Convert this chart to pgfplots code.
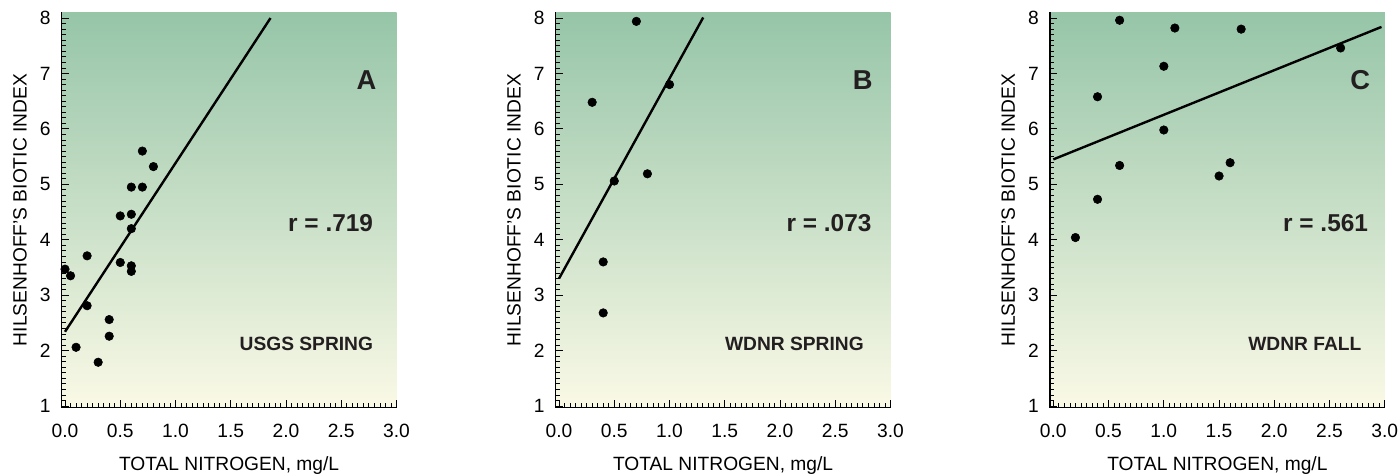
\documentclass[border=0pt]{standalone}
\usepackage{pgfplots}
\pgfplotsset{compat=1.18}
\usepackage{fontspec}
\setmainfont{Liberation Sans}
\definecolor{bgtop}{RGB}{150,197,168}
\definecolor{bgbot}{RGB}{250,249,230}
\definecolor{txt}{RGB}{35,31,32}
\tikzset{
  letter/.style={anchor=base east, inner sep=0pt, text=txt, font=\fontsize{20.5}{22}\selectfont\bfseries},
  rval/.style={anchor=base east, inner sep=0pt, text=txt, font=\fontsize{18.3}{20}\selectfont\bfseries},
  season/.style={anchor=base east, inner sep=0pt, text=txt, font=\fontsize{14.4}{16}\selectfont\bfseries},
}
\pgfplotsset{panel/.style={
  scale only axis, width=251.1pt, height=296.4pt,
  xmin=-0.03, xmax=3.0, ymin=0.97, ymax=8.1,
  axis x line=bottom, axis y line=left,
  axis line style={-, line width=1pt, black},
  axis background/.style={top color=bgtop, bottom color=bgbot},
  xtick={0,0.5,1,1.5,2,2.5,3}, ytick={1,2,3,4,5,6,7,8},
  minor x tick num=9, minor y tick num=9,
  tick align=inside, major tick length=5.5pt, minor tick length=3.3pt,
  every tick/.style={black, line width=0.6pt},
  /pgf/number format/assume math mode=true,
  x tick label style={/pgf/number format/.cd, fixed, fixed zerofill, precision=1, /tikz/.cd,
     anchor=base, yshift=-21.975pt, inner sep=0pt, font=\fontsize{14.4}{16}\selectfont},
  y tick label style={anchor=east, xshift=-8.25pt, inner sep=0pt, font=\fontsize{14.4}{16}\selectfont},
  xlabel={TOTAL NITROGEN, mg/L},
  ylabel={HILSENHOFF’S BIOTIC INDEX},
  every axis x label/.style={at={(axis description cs:0.5,-0.1594)}, anchor=base, inner sep=0pt, font=\fontsize{14.4}{16}\selectfont},
  every axis y label/.style={at={(axis description cs:-0.1245,0.5)}, anchor=center, rotate=90, inner sep=0pt, font=\fontsize{14.4}{16}\selectfont},
  dots/.style={only marks, mark=*, mark size=3.2pt, black},
  fitline/.style={black, line width=1.8pt, no marks},
}}
\begin{document}
\begin{tikzpicture}
\path[use as bounding box] (0,0) rectangle (1048.5pt,356.25pt);
% Panel A
\begin{axis}[panel, at={(46.275pt,50.475pt)}, anchor=south west]
\addplot[dots] coordinates {
(0.7,5.60) (0.8,5.32) (0.6,4.95) (0.7,4.95) (0.5,4.43) (0.6,4.46) (0.6,4.20)
(0.0,3.47) (0.05,3.35) (0.2,3.71) (0.5,3.59) (0.6,3.53) (0.6,3.43)
(0.2,2.81) (0.4,2.56) (0.4,2.26) (0.1,2.06) (0.3,1.79)};
\addplot[fitline] coordinates {(0,2.34) (1.86,8.0)};
\node[letter] at (axis cs:2.82,6.71) {A};
\node[rval] at (axis cs:2.79,4.14) {r = .719};
\node[season] at (axis cs:2.79,2.01) {USGS SPRING};
\end{axis}
% Panel B
\begin{axis}[panel, at={(416.775pt,50.475pt)}, anchor=south west]
\addplot[dots] coordinates {
(0.7,7.94) (0.3,6.48) (1.0,6.80) (0.5,5.06) (0.8,5.19) (0.4,3.60) (0.4,2.68)};
\addplot[fitline] coordinates {(0,3.30) (1.305,8.01)};
\node[letter] at (axis cs:2.84,6.71) {B};
\node[rval] at (axis cs:2.83,4.14) {r = .073};
\node[season] at (axis cs:2.76,2.01) {WDNR SPRING};
\end{axis}
% Panel C
\begin{axis}[panel, at={(787.5pt,50.475pt)}, anchor=south west]
\addplot[dots] coordinates {
(0.6,7.96) (1.1,7.82) (1.7,7.80) (2.6,7.46) (1.0,7.13) (0.4,6.58)
(1.0,5.98) (0.6,5.34) (1.6,5.39) (1.5,5.15) (0.4,4.73) (0.2,4.04)};
\addplot[fitline] coordinates {(0,5.45) (2.97,7.84)};
\node[letter] at (axis cs:2.87,6.71) {C};
\node[rval] at (axis cs:2.85,4.14) {r = .561};
\node[season] at (axis cs:2.79,2.01) {WDNR FALL};
\end{axis}
\end{tikzpicture}
\end{document}
